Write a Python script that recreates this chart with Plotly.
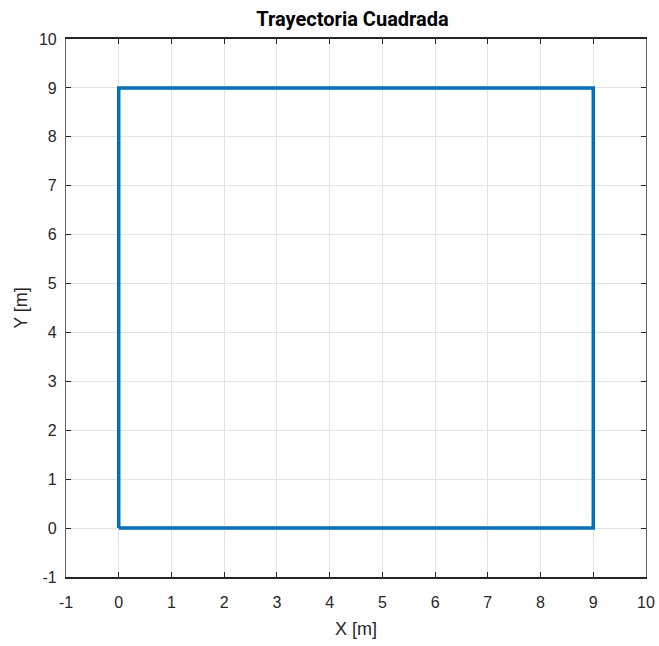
import plotly.graph_objects as go

x_vals = [0, 9, 9, 0, 0]
y_vals = [0, 0, 9, 9, 0]
tick_vals = list(range(-1, 11))
tick_text = [str(v) for v in tick_vals]

fig = go.Figure()
fig.add_trace(go.Scatter(x=x_vals, y=y_vals, mode="lines",
                         line=dict(color="#0072BD", width=3.5), showlegend=False))

axis_common = dict(range=[-1, 10], tickvals=tick_vals, ticktext=tick_text, ticks="inside", ticklen=5,
                   tickcolor="#262626", showgrid=True, gridcolor="#e3e3e3", gridwidth=1,
                   zeroline=False, tickfont=dict(family="Liberation Sans", size=16, color="#262626"),
                   mirror="ticks", showline=True, automargin=False)

fig.update_layout(
    width=659, height=646,
    margin=dict(l=66, r=13, t=39, b=69),
    paper_bgcolor="white", plot_bgcolor="white",
    title=dict(text="<b>Trayectoria Cuadrada</b>", x=0.535, xanchor="center", y=0.971, yanchor="middle",
               font=dict(family="Roboto", size=20, color="black")),
    xaxis=dict(**axis_common, linecolor="#262626", linewidth=2.2, ticklabelstandoff=10,
               title=dict(text="X [m]", font=dict(family="Liberation Sans", size=18, color="#262626"), standoff=12)),
    yaxis=dict(**axis_common, linecolor="#666666", linewidth=1.2, ticklabelstandoff=5,
               title=dict(text="Y [m]", font=dict(family="Liberation Sans", size=18, color="#262626"), standoff=6)),
)

fig.write_html("out.html")
